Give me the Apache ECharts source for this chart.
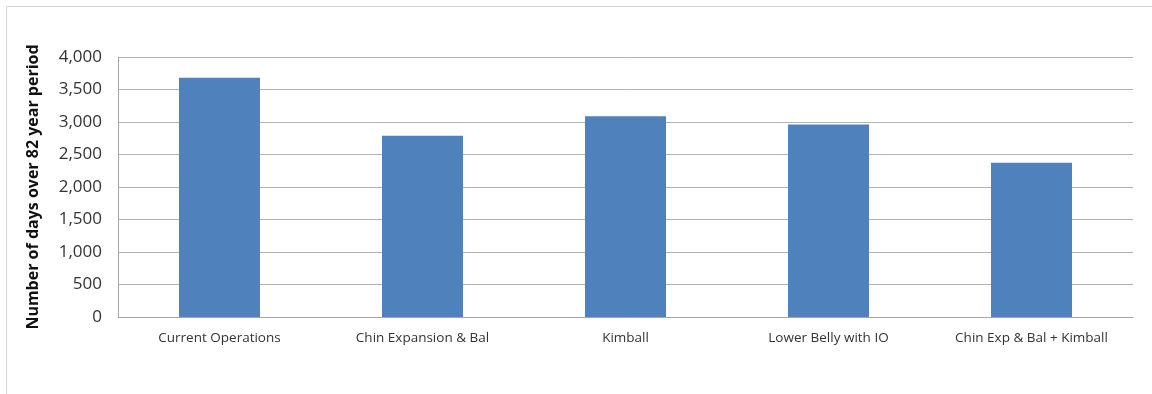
<!DOCTYPE html>
<html>
<head>
<meta charset="utf-8">
<script src="https://cdn.jsdelivr.net/npm/echarts@6/dist/echarts.min.js"></script>
<style>
  html, body { margin: 0; padding: 0; background: #fff; }
  #chart { width: 1152px; height: 394px; }
</style>
</head>
<body>
<div id="chart"></div>
<script>
// Scenario names along the horizontal axis
const categories = [
  'Current Operations',
  'Chin Expansion & Bal',
  'Kimball',
  'Lower Belly with IO',
  'Chin Exp & Bal + Kimball'
];
// Days counted over the 82-year record for each scenario
const dayCounts = [3680, 2790, 3090, 2960, 2375];
// Value axis settings
const yMin = 0;
const yMax = 4000;
const yStep = 500;
const yTitle = 'Number of days over 82 year period';

const chart = echarts.init(document.getElementById('chart'), null, { renderer: 'canvas' });
const font = 'Open Sans, Noto Sans, sans-serif';

chart.setOption({
  animation: false,
  backgroundColor: '#ffffff',
  // Frame lines along the top and left of the chart area
  graphic: [{
    type: 'polyline',
    shape: { points: [[6.5, 400], [6.5, 6.5], [1160, 6.5]] },
    style: { fill: 'none', stroke: '#d4d4d4', lineWidth: 1 },
    silent: true
  }],
  grid: { left: 118, right: 19, top: 57, bottom: 77, containLabel: false },
  xAxis: {
    type: 'category',
    data: categories,
    axisLine: { show: true, lineStyle: { color: '#a6a6a6', width: 1 } },
    axisTick: { show: false },
    axisLabel: {
      interval: 0,
      hideOverlap: false,
      color: '#333333',
      fontSize: 13.5,
      fontFamily: font,
      margin: 14
    }
  },
  yAxis: {
    type: 'value',
    min: yMin,
    max: yMax,
    interval: yStep,
    name: yTitle,
    nameLocation: 'middle',
    nameGap: 77,
    nameRotate: 90,
    nameTextStyle: { color: '#111111', fontSize: 16, fontWeight: 'bold', fontFamily: font },
    axisLine: { show: true, lineStyle: { color: '#a6a6a6', width: 1 } },
    axisTick: { show: false },
    splitLine: { show: true, lineStyle: { color: '#b3b3b3', width: 1 } },
    axisLabel: {
      color: '#333333',
      fontSize: 17,
      fontFamily: font,
      margin: 16,
      formatter: v => v.toLocaleString('en-US')
    }
  },
  series: [{
    type: 'bar',
    data: dayCounts,
    barWidth: 81,
    itemStyle: { color: '#4f81bd' }
  }]
});
</script>
</body>
</html>
